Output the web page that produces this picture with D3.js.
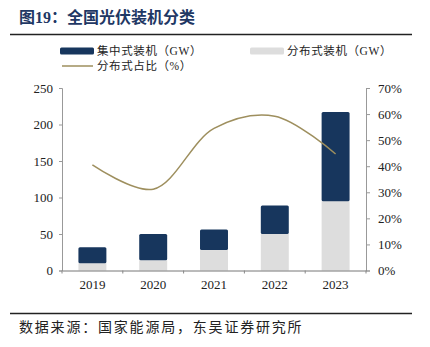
<!DOCTYPE html>
<html>
<head>
<meta charset="utf-8">
<script src="https://cdn.jsdelivr.net/npm/d3@7"></script>
<style>
  body { margin: 0; background: #fff; }
  svg { display: block; }
</style>
</head>
<body>
<div id="chart"></div>
<script>
// chart size
var w = 430;
var h = 347;

// Data
var years = ['2019', '2020', '2021', '2022', '2023'];
var distributed = [10, 14, 28, 50, 95];     // 分布式装机（GW）
var centralized = [22, 36, 28, 39, 122];    // 集中式装机（GW）
var shareDist = [40.5, 31.2, 54.5, 59.2, 44.7]; // 分布式占比（%）
var leftTicks = [0, 50, 100, 150, 200, 250];
var rightTicks = [0, 10, 20, 30, 40, 50, 60, 70];

var navy = '#17365d';
var grey = '#dddddd';
var olive = '#9e8f5e';
var serif = '"Times New Roman", "Liberation Serif", "Noto Sans CJK SC", serif';
var cjk = '"Liberation Serif", "Noto Sans CJK SC", serif';

var svg = d3.select('#chart').append('svg')
  .attr('width', w)
  .attr('height', h);

// title
svg.append('text')
  .attr('x', 19).attr('y', 23)
  .attr('font-family', cjk)
  .attr('font-weight', 'bold')
  .attr('font-size', '16px')
  .attr('fill', '#1f3864')
  .text('图19：全国光伏装机分类');

svg.append('line')
  .attr('x1', 10).attr('x2', 412)
  .attr('y1', 34.5).attr('y2', 34.5)
  .attr('stroke', '#222').attr('stroke-width', 1.5);

// footer
svg.append('line')
  .attr('x1', 10).attr('x2', 412)
  .attr('y1', 313.5).attr('y2', 313.5)
  .attr('stroke', '#222').attr('stroke-width', 1.5);

svg.append('text')
  .attr('x', 19).attr('y', 332)
  .attr('font-family', cjk)
  .attr('font-size', '14px')
  .attr('letter-spacing', '1.8px')
  .attr('fill', '#222')
  .text('数据来源：国家能源局，东吴证券研究所');

// scales
var x = d3.scaleBand().domain(years).range([62, 366]).paddingInner(0.54).paddingOuter(0.27);
var y = d3.scaleLinear().domain([0, 250]).range([270.5, 88]);
var y2 = d3.scaleLinear().domain([0, 70]).range([270.5, 88]);

// stacked bars
var stackData = years.map(function (d, i) {
  return { year: d, dist: distributed[i], cent: centralized[i] };
});
var series = d3.stack().keys(['dist', 'cent'])(stackData);

svg.append('g').selectAll('g')
  .data(series)
  .enter().append('g')
  .attr('fill', function (d) { return d.key === 'dist' ? grey : navy; })
  .selectAll('rect')
  .data(function (d) { return d; })
  .enter().append('rect')
  .attr('x', function (d) { return x(d.data.year); })
  .attr('y', function (d) { return y(d[1]); })
  .attr('width', x.bandwidth())
  .attr('height', function (d) { return y(d[0]) - y(d[1]); })
  .attr('rx', function (d) { return d[0] > 0 ? 1.5 : 0; });

// share line
var line = d3.line()
  .x(function (d, i) { return x(years[i]) + x.bandwidth() / 2; })
  .y(function (d) { return y2(d); })
  .curve(d3.curveCatmullRom.alpha(0.5));

svg.append('path')
  .datum(shareDist)
  .attr('d', line)
  .attr('fill', 'none')
  .attr('stroke', olive)
  .attr('stroke-width', 1.5);

// axes
var axisL = svg.append('g')
  .attr('transform', 'translate(62,0)')
  .call(d3.axisLeft(y).tickValues(leftTicks).tickSize(3).tickPadding(6));

var axisR = svg.append('g')
  .attr('transform', 'translate(366,0)')
  .call(d3.axisRight(y2).tickValues(rightTicks).tickSize(4).tickPadding(8)
    .tickFormat(function (d) { return d + '%'; }));

var axisB = svg.append('g')
  .attr('transform', 'translate(0,270.5)')
  .call(d3.axisBottom(x).tickSize(0).tickPadding(9));

// category separators on x axis
axisB.selectAll('.sep')
  .data(d3.range(years.length + 1))
  .enter().append('line')
  .attr('class', 'sep')
  .attr('x1', function (i) { return 62 + i * x.step(); })
  .attr('x2', function (i) { return 62 + i * x.step(); })
  .attr('y1', 0).attr('y2', 3)
  .attr('stroke', '#888');

[axisL, axisR, axisB].forEach(function (g) {
  g.selectAll('.domain').attr('stroke', '#999');
  g.selectAll('.tick line').attr('stroke', '#999');
  g.selectAll('text')
    .attr('font-family', serif)
    .attr('font-size', '13px')
    .attr('fill', '#222');
});
axisB.select('.domain').attr('stroke', '#777');

// legend
var legend = [
  { label: '集中式装机（GW）', type: 'rect', color: navy, x: 60, y: 51 },
  { label: '分布式装机（GW）', type: 'rect', color: grey, x: 250, y: 51 },
  { label: '分布式占比（%）', type: 'line', color: olive, x: 60, y: 66 }
];

var lg = svg.append('g').selectAll('g')
  .data(legend)
  .enter().append('g')
  .attr('transform', function (d) { return 'translate(' + d.x + ',' + d.y + ')'; });

lg.filter(function (d) { return d.type === 'rect'; })
  .append('rect')
  .attr('x', 0).attr('y', -3.5)
  .attr('width', 34).attr('height', 7)
  .attr('rx', 1.5)
  .attr('fill', function (d) { return d.color; });

lg.filter(function (d) { return d.type === 'line'; })
  .append('line')
  .attr('x1', 2).attr('x2', 33)
  .attr('y1', 0).attr('y2', 0)
  .attr('stroke', function (d) { return d.color; })
  .attr('stroke-width', 1.5);

lg.append('text')
  .attr('x', 37).attr('y', 4)
  .attr('font-family', cjk)
  .attr('font-size', '11.5px')
  .attr('letter-spacing', '0.6px')
  .attr('fill', '#222')
  .text(function (d) { return d.label; });
</script>
</body>
</html>
